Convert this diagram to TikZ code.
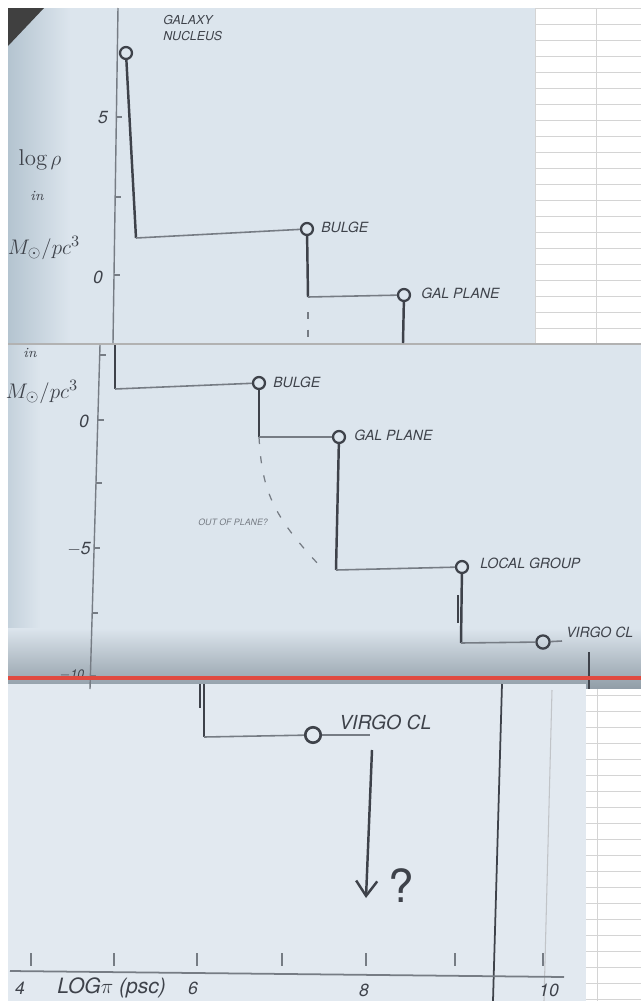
\documentclass[tikz,border=0pt]{standalone}
\usepackage{amsmath,amssymb}
\usepackage{fontspec}
\setsansfont{TeX Gyre Heros}
\usepackage{tikz}
\usetikzlibrary{shapes,arrows,arrows.meta}

\definecolor{paper}{RGB}{220,229,237}
\definecolor{paperlo}{RGB}{226,233,240}
\definecolor{paperdk}{RGB}{180,196,208}
\definecolor{ink}{RGB}{62,66,74}
\definecolor{inklt}{RGB}{118,124,132}
\definecolor{cellline}{RGB}{212,212,212}
\definecolor{cutline}{RGB}{224,74,64}

\tikzstyle{dot} = [circle, draw=ink, line width=1.3pt, inner sep=0pt, minimum size=6.8pt]
\tikzstyle{bigdot} = [dot, line width=1.5pt, minimum size=8.8pt]
\tikzstyle{tag} = [font=\sffamily\itshape\fontsize{8}{9}\selectfont, text=ink, inner sep=0pt, anchor=west]
\tikzstyle{bigtag} = [tag, font=\sffamily\itshape\fontsize{11}{12}\selectfont]
\tikzstyle{tinytag} = [tag, font=\sffamily\itshape\fontsize{5}{6}\selectfont, text=inklt]
\tikzstyle{num} = [font=\sffamily\itshape\fontsize{10}{10}\selectfont, text=ink, inner sep=0pt]
\tikzstyle{ylab} = [font=\itshape\fontsize{13}{14}\selectfont, text=ink, inner sep=0pt]
\tikzstyle{drop} = [draw=ink, line width=1.4pt]
\tikzstyle{flat} = [draw=inklt, line width=0.9pt]
\tikzstyle{axisline} = [draw=inklt, line width=0.8pt]
\tikzstyle{cellrule} = [draw=cellline, line width=0.5pt]

\begin{document}
\begin{tikzpicture}[x=0.02cm, y=-0.02cm]
    \useasboundingbox (0,0) rectangle (641,1001);
    \fill[white] (0,0) rectangle (641,1001);

    % Backgrounds
    \fill[paper] (8,8) rectangle (535,343);
    \shade[left color=paperdk, right color=paper] (8,8) rectangle (70,343);
    \fill[black!75] (8,8) -- (44,8) -- (8,46) -- cycle;
    \foreach \r in {0,...,20} \draw[cellrule] (535,8+16*\r) -- (641,8+16*\r);
    \draw[cellrule] (596,8) -- (596,343);
    \draw[cellrule] (535,8) -- (535,343);

    \fill[paper] (8,343) rectangle (641,689);
    \shade[left color=paperdk!60!paper, right color=paper] (8,343) rectangle (40,689);
    \shade[top color=paper, bottom color=paperdk!80!black] (8,628) rectangle (641,689);
    \draw[black!30, line width=1pt] (8,344) -- (641,344);

    \fill[paperlo] (8,684) rectangle (586,1001);
    \fill[white] (586,689) rectangle (641,1001);
    \foreach \r in {0,...,19} \draw[cellrule] (586,695+16*\r) -- (641,695+16*\r);
    \draw[cellrule] (597,689) -- (597,1001);

    % Photo 1: axis
    \coordinate (axAt) at (118,8);
    \coordinate (axAb) at (113,343);
    \draw[axisline] (axAt) -- (axAb);
    \foreach \y in {117,197,275} \draw[axisline] ({118-5*(\y-8)/335},\y) -- ++(6,0);
    \node[num] at (103,118) {5};
    \node[num] at (98,277) {0};
    \node[ylab] (logA) at (40,160) {$\log\rho$};
    \node[ylab] (inA) at (37,196) {\fontsize{8}{8}\selectfont in};
    \node[ylab] (unitA) at (44,248) {$M_\odot/pc^3$};

    % Photo 1: nodes
    \node[dot] (nucA) at (126,53) {};
    \node[dot] (bulgeA) at (307,229) {};
    \node[dot] (planeA) at (404,295) {};
    \node[tag, align=left, font=\sffamily\itshape\fontsize{7}{9}\selectfont] at (163,28) {GALAXY\\NUCLEUS};
    \node[tag] at (321,227) {BULGE};
    \node[tag] at (421,293) {GAL PLANE};
    \coordinate (kneeA1) at (136,238);
    \coordinate (kneeA2) at (308,297);
    \coordinate (endA) at (403,343);

    % Photo 1: edges
    \draw[drop] (nucA) -- (kneeA1);
    \draw[flat] (kneeA1) -- (bulgeA);
    \draw[drop] (bulgeA) -- (kneeA2);
    \draw[flat] (kneeA2) -- (planeA);
    \draw[drop] (planeA) -- (endA);
    \draw[inklt, line width=0.7pt, dash pattern=on 4pt off 6pt] (308,312) -- (308,343);

    % Photo 2: axis
    \coordinate (axBt) at (100,345);
    \coordinate (axBb) at (90,689);
    \draw[axisline] (axBt) -- (axBb);
    \foreach \y in {355,420,483,548,613,676} \draw[axisline] ({100-10*(\y-345)/344},\y) -- ++(6,0);
    \node[num] at (84,421) {0};
    \node[num] at (79,549) {$-$5};
    \node[num, font=\sffamily\itshape\fontsize{7}{7}\selectfont] at (72,675) {$-$10};
    \node[ylab] (inB) at (30,353) {\fontsize{8}{8}\selectfont in};
    \node[ylab] (unitB) at (42,392) {$M_\odot/pc^3$};

    % Photo 2: nodes
    \node[dot] (bulgeB) at (259,383) {};
    \node[dot] (planeB) at (339,437) {};
    \node[dot] (groupB) at (462,567) {};
    \node[dot, minimum size=7.5pt] (virgoB) at (543,642) {};
    \node[tag] at (273,382) {BULGE};
    \node[tag] at (354,435) {GAL PLANE};
    \node[tag] at (480,563) {LOCAL GROUP};
    \node[tag] at (566,632) {VIRGO CL};
    \node[tinytag] at (198,522) {OUT OF PLANE?};
    \coordinate (topB) at (115,345);
    \coordinate (kneeB0) at (115,389);
    \coordinate (kneeB1) at (259,437);
    \coordinate (kneeB2) at (336,570);
    \coordinate (kneeB3) at (461,643);
    \coordinate (tailB) at (562,641);
    \coordinate (outB) at (320,566);

    % Photo 2: edges
    \draw[drop] (topB) -- (kneeB0);
    \draw[flat] (kneeB0) -- (bulgeB);
    \draw[drop] (bulgeB) -- (kneeB1);
    \draw[flat] (kneeB1) -- (planeB);
    \draw[drop] (planeB) -- (kneeB2);
    \draw[flat] (kneeB2) -- (groupB);
    \draw[drop] (groupB) -- (kneeB3);
    \draw[drop] (458,595) -- (458,623);
    \draw[flat] (kneeB3) -- (virgoB);
    \draw[flat] (virgoB) -- (tailB);
    \draw[inklt, line width=0.7pt, dash pattern=on 4pt off 7pt] (kneeB1) .. controls (262,490) and (272,515) .. (outB);
    \draw[drop] (589,652) -- (589,689);

    % Photo 3: nodes
    \node[bigdot] (virgoC) at (313,735) {};
    \node[bigtag] at (339,722) {VIRGO CL};
    \node[font=\sffamily\fontsize{26}{26}\selectfont, text=ink, inner sep=0pt] (askC) at (401,886) {?};
    \coordinate (topC) at (204,684);
    \coordinate (kneeC) at (204,737);
    \coordinate (tailC) at (370,735);
    \coordinate (arrowTop) at (372,750);
    \coordinate (arrowEnd) at (366,898);

    % Photo 3: edges
    \draw[drop] (topC) -- (kneeC);
    \draw[drop] (200,684) -- (200,708);
    \draw[flat] (kneeC) -- (virgoC);
    \draw[flat] (virgoC) -- (tailC);
    \draw[drop, -{Straight Barb[length=8.5pt,width=12pt,line width=1.4pt]}] (arrowTop) -- (arrowEnd);
    \draw[ink, line width=1pt] (502,684) -- (493,1001);
    \draw[inklt!45, line width=0.6pt] (552,690) -- (544,1001);

    % Photo 3: x axis
    \draw[axisline, line width=1pt] (10,971) -- (564,977);
    \foreach \x in {31,114,197,282,366,455,543} \draw[axisline] (\x,953) -- (\x,966);
    \node[num] at (20,988) {4};
    \node[tag, font=\sffamily\itshape\fontsize{12}{12}\selectfont] at (57,988) {LOG$\pi$ (psc)};
    \node[num] at (193,988) {6};
    \node[num] at (364,990) {8};
    \node[num] at (549,990) {10};

    % Cut line
    \draw[cutline, line width=1.8pt] (8,678) -- (641,678);
\end{tikzpicture}
\end{document}
